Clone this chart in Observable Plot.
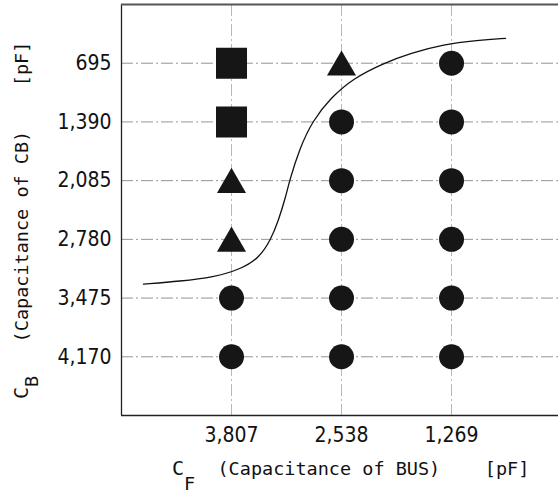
<!DOCTYPE html>
<html>
<head>
<meta charset="utf-8">
<script src="https://cdn.jsdelivr.net/npm/d3@7"></script>
<script src="https://cdn.jsdelivr.net/npm/@observablehq/plot@0.6"></script>
<style>
  html, body { margin: 0; padding: 0; background: #fff; }
</style>
</head>
<body>
<div id="chart"></div>
<script>
// C_F (capacitance of BUS) categories, pF
const cfValues = [3807, 2538, 1269];
// C_B (capacitance of CB) categories, pF
const cbValues = [695, 1390, 2085, 2780, 3475, 4170];
// marker shape for each (C_B row, C_F column)
const regionGrid = [
  ["square",   "triangle", "circle"],
  ["square",   "circle",   "circle"],
  ["triangle", "circle",   "circle"],
  ["triangle", "circle",   "circle"],
  ["circle",   "circle",   "circle"],
  ["circle",   "circle",   "circle"]
];
// boundary curve
const curveCF = [4822, 4395, 4015, 3703, 3490, 3357, 3265, 3184, 3138, 3023, 2873, 2665, 2400, 2054, 1742, 1361, 969, 646];
const curveCB = [3310, 3275, 3228, 3135, 3000, 2792, 2556, 2285, 2085, 1708, 1378, 1107, 872, 695, 577, 471, 424, 400];

const cells = cbValues.flatMap((cb, i) => cfValues.map((cf, j) => ({cf, cb, shape: regionGrid[i][j]})));
const curve = curveCF.map((x, i) => ({x, y: curveCB[i]}));

const tickFont = "'Liberation Sans Narrow', 'DejaVu Sans Condensed', 'Liberation Sans', sans-serif";
const titleFont = "'DejaVu Sans Mono', monospace";
const fmt = d3.format(",");

const plot = Plot.plot({
  width: 558,
  height: 495,
  marginLeft: 121,
  marginRight: 0,
  marginTop: 4,
  marginBottom: 80,
  style: {fontFamily: tickFont, fontSize: "21px", background: "#fff", color: "#111"},
  x: {type: "linear", domain: [5076, 35], axis: null},
  y: {type: "linear", domain: [0, 4865], reverse: true, axis: null},
  marks: [
    Plot.gridY(cbValues, {stroke: "#888", strokeOpacity: 0.9, strokeDasharray: "12,3,2,3"}),
    Plot.gridX(cfValues, {stroke: "#888", strokeOpacity: 0.6, strokeDasharray: "12,3,2,3"}),
    Plot.ruleX([5076], {stroke: "#222", strokeWidth: 1.3}),
    Plot.ruleY([0], {stroke: "#555", strokeWidth: 2}),
    Plot.ruleY([4865], {stroke: "#222", strokeWidth: 1.5}),
    Plot.line(curve, {x: "x", y: "y", curve: "basis", stroke: "#111", strokeWidth: 1.3}),
    Plot.dot(cells.filter(d => d.shape === "square"), {x: "cf", y: "cb", symbol: "square", r: 17.5, fill: "#161616"}),
    Plot.dot(cells.filter(d => d.shape === "triangle"), {x: "cf", y: "cb", symbol: "triangle", r: 10.8, dy: 4, fill: "#161616"}),
    Plot.dot(cells.filter(d => d.shape === "circle"), {x: "cf", y: "cb", symbol: "circle", r: 12.5, fill: "#161616"}),
    Plot.axisY(cbValues, {tickSize: 0, tickPadding: 10, tickFormat: fmt, label: null, fontSize: 21}),
    Plot.axisX(cfValues, {tickSize: 0, tickPadding: 12, tickFormat: fmt, label: null, fontSize: 21})
  ]
});

document.getElementById("chart").appendChild(plot);

const svg = d3.select(plot);

// x axis title
const xt = svg.append("text")
  .attr("x", 172).attr("y", 475)
  .attr("text-anchor", "start")
  .attr("font-family", titleFont).attr("font-size", 18.5).attr("fill", "#111")
  .style("white-space", "pre");
xt.append("tspan").attr("font-size", 20).text("C");
xt.append("tspan").attr("dy", 15).text("F");
xt.append("tspan").attr("dy", -15).text("  (Capacitance of BUS)    [pF]");

// y axis title
const yt = svg.append("text")
  .attr("transform", "translate(28,399) rotate(-90)")
  .attr("text-anchor", "start")
  .attr("font-family", titleFont).attr("font-size", 18.5).attr("fill", "#111")
  .style("white-space", "pre");
yt.append("tspan").attr("font-size", 20).text("C");
yt.append("tspan").attr("dy", 10).text("B");
yt.append("tspan").attr("dy", -10).text("   (Capacitance of CB)    [pF]");
</script>
</body>
</html>
